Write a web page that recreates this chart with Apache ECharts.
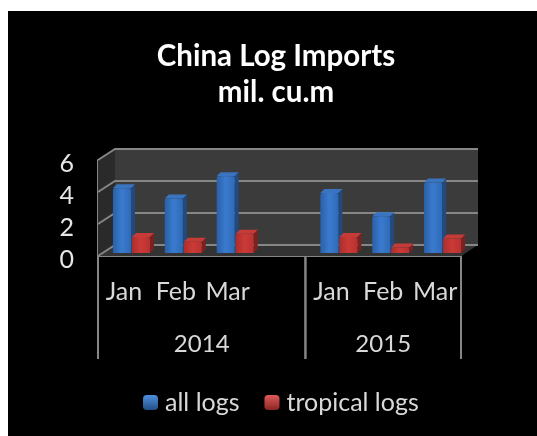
<!DOCTYPE html>
<html><head><meta charset="utf-8">
<style>html,body{margin:0;padding:0;background:#fff;overflow:hidden}#bg{position:absolute;left:8px;top:11px;right:0;bottom:0;background:#000}#c{position:absolute;left:0;top:0;width:537px;height:436px;filter:blur(.5px)}</style>
<script src="https://cdn.jsdelivr.net/npm/echarts@6/dist/echarts.min.js"></script>
</head><body><div id="bg"></div><div id="c"></div>
<script>
const months = ['Jan','Feb','Mar','','Jan','Feb','Mar'];
const allLogs = [4.05,3.4,4.8,null,3.75,2.3,4.4];
const tropicalLogs = [1.0,0.7,1.2,null,1.0,0.35,0.9];
const years = ['2014','2015'];
const yearSpans = [[0,4],[4,7]];
const yTicks = [0,2,4,6];
const font = 'Lato';
const DX = 17, DY = -11;
const lineCol = '#868686';

function bar(face, side, top, off) {
  return function (params, api) {
    const v = api.value(1);
    if (v == null || isNaN(v)) return;
    const band = api.size([1, 0])[0];
    const b = api.coord([api.value(0), 0]);
    const t = api.coord([api.value(0), v]);
    const w = 18, d = 4, lift = 3;
    const x = b[0] + off * band / 51.86;
    const y0 = b[1] - lift, y1 = t[1] - lift;
    return {type: 'group', children: [
      {type: 'polygon', shape: {points: [[x+w,y1],[x+w+d,y1-d],[x+w+d,y0-d],[x+w,y0]]}, style: {fill: side}},
      {type: 'polygon', shape: {points: [[x,y1],[x+d,y1-d],[x+w+d,y1-d],[x+w,y1]]}, style: {fill: top}},
      {type: 'rect', shape: {x: x, y: y1, width: w, height: y0-y1, r: [2,2,0,0]}, style: {fill: face}}
    ]};
  };
}
const g = (a,b,c) => ({type:'linear',x:0,y:0,x2:1,y2:0,colorStops:[{offset:0,color:a},{offset:.5,color:b},{offset:1,color:c}]});

const option = {
  backgroundColor: 'transparent',
  animation: false,
  title: {
    text: 'China Log Imports\nmil. cu.m', left: 271, top: 33, textAlign: 'center',
    textStyle: {color: '#fff', fontFamily: font, fontWeight: 'bold', fontSize: 29.5, lineHeight: 36}
  },
  legend: {
    data: ['all logs','tropical logs'], top: 385, left: 138,
    itemWidth: 15, itemHeight: 15, itemGap: 25,
    textStyle: {color: '#d9d9d9', fontFamily: font, fontSize: 25, padding: [0,0,0,2]}
  },
  grid: {left: 98, right: 76, top: 160, bottom: 180, containLabel: false},
  xAxis: [
    {type: 'category', data: months, axisTick: {show: false},
     axisLine: {lineStyle: {color: lineCol, width: 2}},
     axisLabel: {color: '#d9d9d9', fontFamily: font, fontSize: 25, margin: 23, interval: 0}},
    {type: 'value', min: 0, max: 7, show: false}
  ],
  yAxis: {type: 'value', min: 0, max: 6, interval: 2,
    axisLine: {show: true, lineStyle: {color: lineCol, width: 2}}, axisTick: {show: false}, splitLine: {show: false},
    axisLabel: {color: '#e6e6e6', fontFamily: font, fontSize: 25, margin: 24, verticalAlign: 'top', lineHeight: 8}},
  series: [
    {type: 'custom', silent: true, xAxisIndex: 1, z: 1, data: [[0]], renderItem: function (p, api) {
      const a = api.coord([0,0]), b = api.coord([7,0]), c = api.coord([0,6]);
      const kids = [
        {type:'rect', shape:{x:a[0]+DX,y:c[1]+DY,width:b[0]-a[0],height:a[1]-c[1]}, style:{fill:'#3b3b3b'}},
        {type:'polygon', shape:{points:[[a[0],a[1]],[a[0]+DX,a[1]+DY],[a[0]+DX,c[1]+DY],[a[0],c[1]]]}, style:{fill:'#2a2a2a'}},
        {type:'polygon', shape:{points:[[a[0],a[1]],[a[0]+DX,a[1]+DY],[b[0]+DX,a[1]+DY],[b[0],b[1]]]}, style:{fill:'#333'}}
      ];
      yTicks.forEach(t => {
        const q = api.coord([0,t]);
        kids.push({type:'polyline', shape:{points:[[q[0],q[1]],[q[0]+DX,q[1]+DY],[b[0]+DX,q[1]+DY]]}, style:{fill:'none',stroke:lineCol,lineWidth:2}});
      });
      return {type:'group', children:kids};
    }},
    {type: 'custom', name: 'all logs', z: 3, encode: {x: 0, y: 1},
     itemStyle: {color: {type:'linear',x:0,y:0,x2:0,y2:1,colorStops:[{offset:0,color:'#4f8fe0'},{offset:1,color:'#234f86'}]}},
     data: allLogs.map((v,i) => [i,v]),
     renderItem: bar(g('#2a60a8','#3a7bcf','#2f6ab5'), '#214a80', '#3a74c0', -11)},
    {type: 'custom', name: 'tropical logs', z: 3, encode: {x: 0, y: 1},
     itemStyle: {color: {type:'linear',x:0,y:0,x2:0,y2:1,colorStops:[{offset:0,color:'#e05a58'},{offset:1,color:'#8a2523'}]}},
     data: tropicalLogs.map((v,i) => [i,v]),
     renderItem: bar(g('#ab2e2c','#cb3a37','#b83230'), '#7d2120', '#c63a38', 8)},
    {type: 'custom', silent: true, xAxisIndex: 1, z: 2, data: yearSpans.map((s,i)=>[s[0],s[1],i]), renderItem: function (p, api) {
      const l = api.coord([api.value(0),0]), r = api.coord([api.value(1),0]);
      const len = 103;
      const kids = [
        {type:'line', shape:{x1:l[0],y1:l[1],x2:l[0],y2:l[1]+len}, style:{stroke:lineCol,lineWidth:2}},
        {type:'line', shape:{x1:r[0],y1:r[1],x2:r[0],y2:r[1]+len}, style:{stroke:lineCol,lineWidth:2}},
        {type:'text', x:(l[0]+r[0])/2, y:l[1]+88, style:{text:years[api.value(2)], fill:'#d9d9d9', font:'24px '+font, align:'center', verticalAlign:'middle'}}
      ];
      return {type:'group', children:kids};
    }}
  ]
};
const chart = echarts.init(document.getElementById('c'), null, {renderer:'canvas'});
chart.setOption(option);
</script></body></html>
